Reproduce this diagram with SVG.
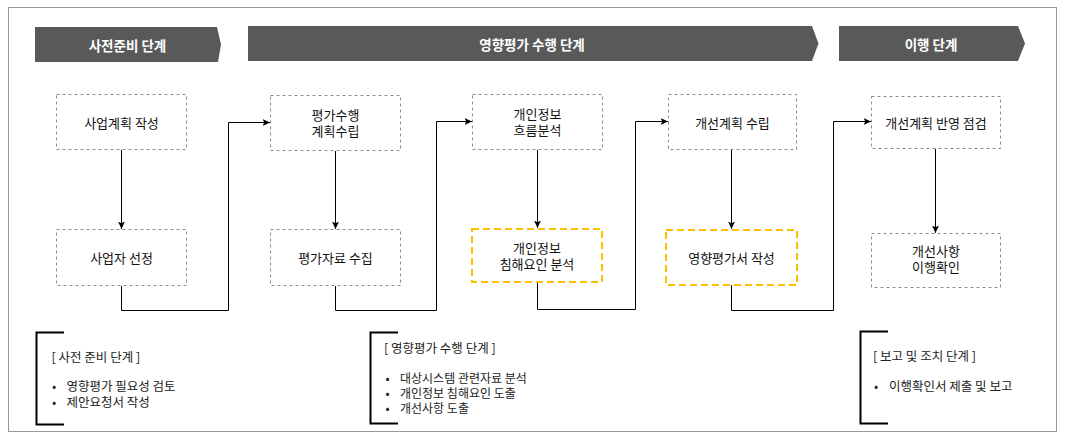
<svg xmlns="http://www.w3.org/2000/svg" width="1066" height="439" viewBox="0 0 1066 439">
<style>
  text { font-family: "Noto Sans CJK KR", "Noto Sans", sans-serif; font-size: 13px; fill: #111; }
  .banner { fill: #595959; }
  .btxt { fill: #fff; font-weight: bold; font-size: 13.5px; text-anchor: middle; dominant-baseline: central; }
  .node { fill: #fff; stroke: #8c8c8c; stroke-width: 1; stroke-dasharray: 3 3; }
  .hl { fill: #fff; stroke: #FFC000; stroke-width: 2; stroke-dasharray: 7 4; }
  .ntxt { text-anchor: middle; dominant-baseline: central; }
  .conn { fill: none; stroke: #000; stroke-width: 1; }
  .brk { fill: none; stroke: #000; stroke-width: 2; }
  .note { font-size: 12.5px; fill: #222; dominant-baseline: central; }
  .note.s { font-size: 12px; }
</style>
<defs>
  <marker id="arr" markerUnits="userSpaceOnUse" markerWidth="9" markerHeight="8" refX="7.5" refY="3.5" orient="auto">
    <path d="M0,0 L7.5,3.5 L0,7 L1.8,3.5 z" fill="#000"/>
  </marker>
</defs>
<rect x="8.5" y="7.5" width="1048" height="424" fill="#fff" stroke="#999" stroke-width="1"/>

<g id="banner1">
  <polygon class="banner" points="35,27 217,27 221,44.5 218,62 35,62"/>
  <text class="btxt" x="127.5" y="44.5">사전준비 단계</text>
</g>
<g id="banner2">
  <polygon class="banner" points="248,26 812,26 818.5,43.5 812,61 248,61"/>
  <text class="btxt" x="532" y="43.5">영향평가 수행 단계</text>
</g>
<g id="banner3">
  <polygon class="banner" points="839,26 1018,26 1025,43.5 1018,61 839,61"/>
  <text class="btxt" x="931" y="43.5">이행 단계</text>
</g>

<g id="connectors">
  <path class="conn" d="M121.5,150 V229" marker-end="url(#arr)"/>
  <path class="conn" d="M121.5,286 V310.5 H228.5 V122.5 H270" marker-end="url(#arr)"/>
  <path class="conn" d="M335.5,151 V229" marker-end="url(#arr)"/>
  <path class="conn" d="M335.5,286 V310.5 H436.5 V121.5 H472" marker-end="url(#arr)"/>
  <path class="conn" d="M537.5,150 V228" marker-end="url(#arr)"/>
  <path class="conn" d="M537.5,283 V309.5 H635.5 V121.5 H668" marker-end="url(#arr)"/>
  <path class="conn" d="M731.5,150 V229" marker-end="url(#arr)"/>
  <path class="conn" d="M731.5,285 V310.5 H833.5 V121.5 H871" marker-end="url(#arr)"/>
  <path class="conn" d="M935.5,149 V233" marker-end="url(#arr)"/>
</g>

<g id="n1">
  <rect class="node" x="56.5" y="94.5" width="130" height="55"/>
  <text class="ntxt" x="121.5" y="122">사업계획 작성</text>
</g>
<g id="n2">
  <rect class="node" x="270.5" y="95.5" width="130" height="55"/>
  <text class="ntxt" x="335.5" y="114.5">평가수행</text>
  <text class="ntxt" x="335.5" y="130.5">계획수립</text>
</g>
<g id="n3">
  <rect class="node" x="472.5" y="94.5" width="130" height="55"/>
  <text class="ntxt" x="537.5" y="113">개인정보</text>
  <text class="ntxt" x="537.5" y="129">흐름분석</text>
</g>
<g id="n4">
  <rect class="node" x="668.5" y="94.5" width="128" height="55"/>
  <text class="ntxt" x="732.5" y="122">개선계획 수립</text>
</g>
<g id="n5">
  <rect class="node" x="871.5" y="96.5" width="129" height="52"/>
  <text class="ntxt" x="936" y="122">개선계획 반영 점검</text>
</g>
<g id="n6">
  <rect class="node" x="56.5" y="229.5" width="130" height="56"/>
  <text class="ntxt" x="121.5" y="257.5">사업자 선정</text>
</g>
<g id="n7">
  <rect class="node" x="270.5" y="229.5" width="130" height="56"/>
  <text class="ntxt" x="335.5" y="257.5">평가자료 수집</text>
</g>
<g id="n8">
  <rect class="hl" x="472" y="229" width="130" height="53"/>
  <text class="ntxt" x="537" y="247.5">개인정보</text>
  <text class="ntxt" x="537" y="263.5">침해요인 분석</text>
</g>
<g id="n9">
  <rect class="hl" x="666" y="230" width="131" height="55"/>
  <text class="ntxt" x="731.5" y="257.5">영향평가서 작성</text>
</g>
<g id="n10">
  <rect class="node" x="871.5" y="233.5" width="129" height="54"/>
  <text class="ntxt" x="936" y="250.5">개선사항</text>
  <text class="ntxt" x="936" y="266.5">이행확인</text>
</g>

<g id="note1">
  <path class="brk" d="M64,332.5 H36.5 V424.5 H64"/>
  <text class="note" x="51.5" y="356">[ 사전 준비 단계 ]</text>
  <text class="note" x="52" y="385">•</text>
  <text class="note" x="66.5" y="385">영향평가 필요성 검토</text>
  <text class="note" x="52" y="401">•</text>
  <text class="note" x="66.5" y="401">제안요청서 작성</text>
</g>
<g id="note2">
  <path class="brk" d="M398,332.5 H370.5 V423.5 H398"/>
  <text class="note" x="384" y="347.5">[ 영향평가 수행 단계 ]</text>
  <text class="note s" x="385.5" y="377.5">•</text>
  <text class="note s" x="400" y="377.5">대상시스템 관련자료 분석</text>
  <text class="note s" x="385.5" y="392.5">•</text>
  <text class="note s" x="400" y="392.5">개인정보 침해요인 도출</text>
  <text class="note s" x="385.5" y="407.5">•</text>
  <text class="note s" x="400" y="407.5">개선사항 도출</text>
</g>
<g id="note3">
  <path class="brk" d="M888,331.5 H860.5 V423.5 H888"/>
  <text class="note" x="873" y="355">[ 보고 및 조치 단계 ]</text>
  <text class="note" x="874" y="385">•</text>
  <text class="note" x="889" y="385">이행확인서 제출 및 보고</text>
</g>
</svg>
